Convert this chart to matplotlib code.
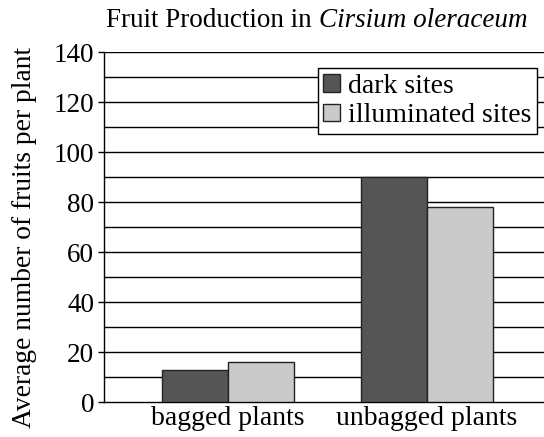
import numpy as np
import matplotlib.pyplot as plt

plt.rcParams['font.family'] = ['Liberation Serif', 'DejaVu Serif']

categories = ["bagged plants", "unbagged plants"]
dark_sites = [13, 90]
illuminated_sites = [16, 78]
series_names = ["dark sites", "illuminated sites"]

fig = plt.figure(figsize=(5.44, 4.37), dpi=100)
ax = fig.add_axes([0.191, 0.080, 0.809, 0.801])

x = np.arange(len(categories))
w = 0.332
ax.bar(x - w / 2, dark_sites, w, color='#555555', edgecolor='#222222', linewidth=1,
       label=series_names[0], zorder=3)
ax.bar(x + w / 2, illuminated_sites, w, color='#cacaca', edgecolor='#222222', linewidth=1,
       label=series_names[1], zorder=3)

for yv in range(10, 150, 10):
    ax.axhline(yv, color='black', linewidth=1, zorder=1)

ax.set_xlim(-0.623, 1.588)
ax.set_ylim(0, 140)
ax.set_yticks(range(0, 141, 20))
ax.set_xticks(x)
ax.set_xticklabels(categories, fontsize=20)
ax.tick_params(axis='x', length=0, pad=3)
ax.tick_params(axis='y', labelsize=19.5, length=4, width=1, pad=3)
for s in ['top', 'right']:
    ax.spines[s].set_visible(False)
ax.spines['left'].set_linewidth(1)
ax.spines['bottom'].set_linewidth(1)

ax.set_ylabel("Average number of fruits per plant", fontsize=19.8)
ax.yaxis.set_label_coords(-0.152, 0.47)

# title: regular part + italic species name
t_it = fig.text(0.969, 0.925, "Cirsium oleraceum", ha='right', va='bottom',
                fontsize=19.5, style='italic')
ax.annotate("Fruit Production in", xy=(0, 0), xycoords=t_it, xytext=(-5, 0),
            textcoords='offset points', ha='right', va='bottom', fontsize=19.5,
            annotation_clip=False)

leg = ax.legend(loc='upper right', bbox_to_anchor=(0.985, 0.953), fontsize=20,
                frameon=True, fancybox=False, edgecolor='black', framealpha=1,
                handlelength=0.6, handleheight=0.6, handletextpad=0.3,
                borderpad=0.2, labelspacing=0.15, borderaxespad=0)
leg.get_frame().set_linewidth(1)
leg.set_zorder(5)

fig.savefig("out.png", dpi=100)
